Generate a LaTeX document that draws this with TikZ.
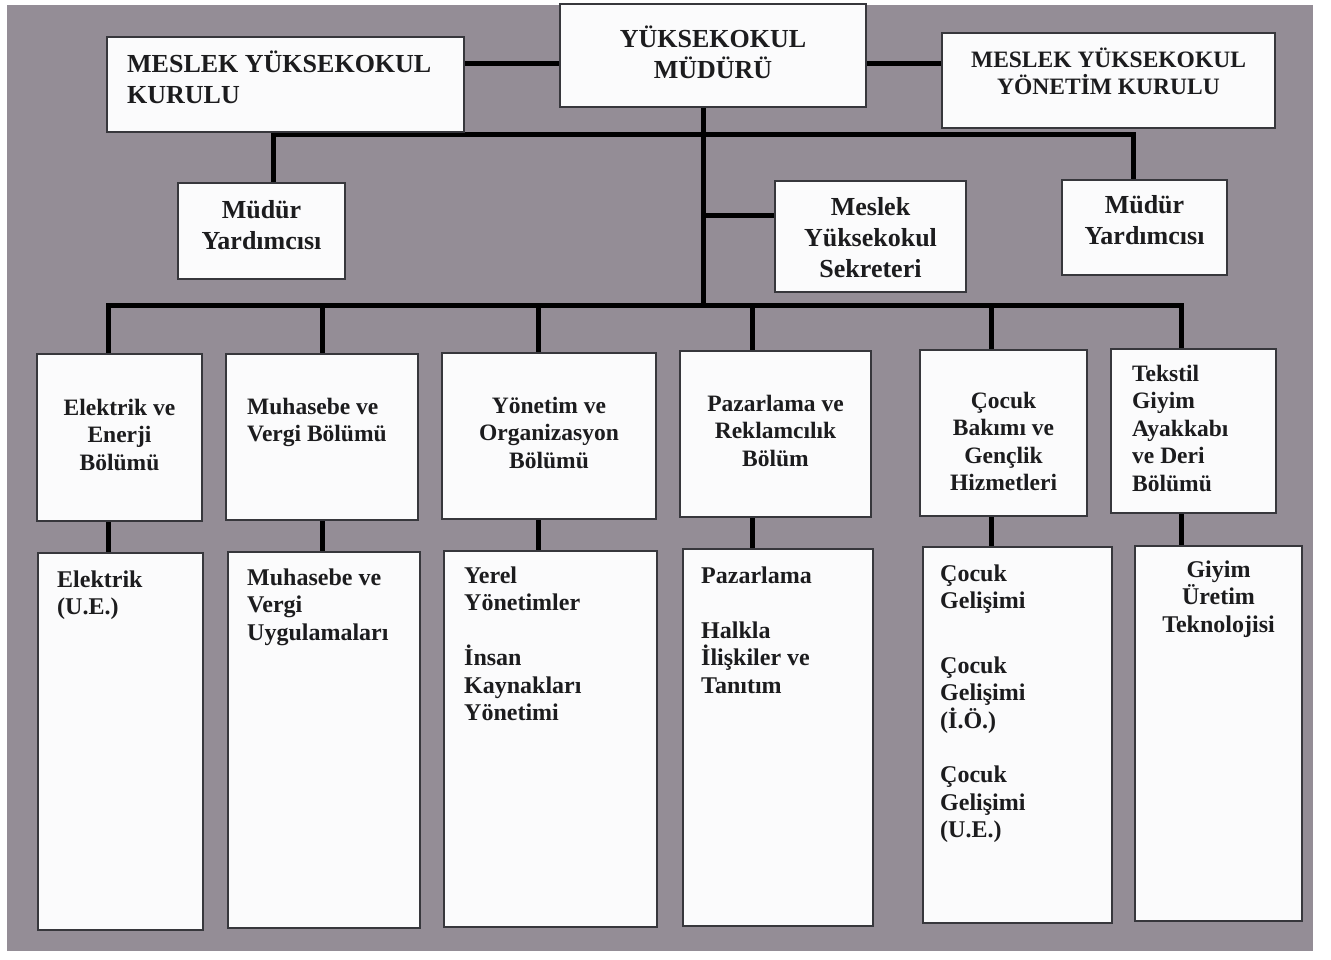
\documentclass[tikz,border=0pt]{standalone}
\usepackage{fontspec}
\setmainfont{Liberation Serif}
\usetikzlibrary{fit}
\definecolor{bgc}{RGB}{148,141,150}
\definecolor{boxfill}{RGB}{251,251,252}
\definecolor{boxline}{RGB}{55,55,60}
\definecolor{ink}{RGB}{28,28,30}
\newcommand\tsx[1]{\rule{0pt}{#1}}
\pgfdeclarelayer{back}
\pgfdeclarelayer{wires}
\pgfsetlayers{back,wires,main}
\begin{document}
\begin{tikzpicture}[x=1pt,y=-1pt,
  box/.style={draw=boxline, line width=1.6pt, fill=boxfill, inner sep=0pt, outer sep=0pt},
  conn/.style={draw=black, line width=5pt, line join=miter},
  big/.style={inner sep=0pt, text=ink, font=\fontsize{26}{31}\selectfont\bfseries},
  mid/.style={inner sep=0pt, text=ink, font=\fontsize{23.5}{27}\selectfont\bfseries},
  dep/.style={inner sep=0pt, text=ink, font=\fontsize{23.5}{27.5}\selectfont\bfseries},
  prg/.style={inner sep=0pt, text=ink, font=\fontsize{24}{27.5}\selectfont\bfseries}]
\useasboundingbox (0,0) rectangle (1331,959);
\begin{pgfonlayer}{back}
  \fill[white] (0,0) rectangle (1331,959);
  \fill[bgc] (7,5) rectangle (1313,951);
\end{pgfonlayer}

% top level
\node[box, fit={(107,37) (464,132)}] (b1) {};
\node[box, fit={(560,4) (866,107)}] (b2) {};
\node[box, fit={(942,33) (1275,128)}] (b3) {};
% second level
\node[box, fit={(178,183) (345,279)}] (y1) {};
\node[box, fit={(775,181) (966,292)}] (sek) {};
\node[box, fit={(1062,180) (1227,275)}] (y2) {};
% departments
\node[box, fit={(37,354) (202,521)}] (d1) {};
\node[box, fit={(226,354) (418,520)}] (d2) {};
\node[box, fit={(442,353) (656,519)}] (d3) {};
\node[box, fit={(680,351) (871,517)}] (d4) {};
\node[box, fit={(920,350) (1087,516)}] (d5) {};
\node[box, fit={(1111,349) (1276,513)}] (d6) {};
% programmes
\node[box, fit={(38,553) (203,930)}] (p1) {};
\node[box, fit={(228,552) (420,928)}] (p2) {};
\node[box, fit={(444,551) (657,927)}] (p3) {};
\node[box, fit={(683,549) (873,926)}] (p4) {};
\node[box, fit={(923,547) (1112,923)}] (p5) {};
\node[box, fit={(1135,546) (1302,921)}] (p6) {};

\coordinate (ub) at (703,134);
\coordinate (busY) at (703,305);

\begin{pgfonlayer}{wires}
  \draw[conn] ([yshift=-26pt]b1.north east) -- ([yshift=-26pt]b1.north east -| b2.west);
  \draw[conn] ([yshift=-59pt]b2.north east) -- ([yshift=-59pt]b2.north east -| b3.west);
  \draw[conn] ([xshift=-10pt]b2.south) -- ([xshift=-10pt]b2.south |- busY);
  \draw[conn] ([xshift=11.5pt]y1.north) |- (ub) -| ([xshift=-11.5pt]y2.north);
  \draw[conn] ([yshift=21.5pt]sek.west) -- ([yshift=21.5pt]sek.west -| ub);
  \draw[conn] ([xshift=-11.5pt]d1.north) |- ([xshift=-12.5pt]d6.north |- busY) -- ([xshift=-12.5pt]d6.north);
  \draw[conn] (d2.north) -- (d2.north |- busY);
  \draw[conn] ([xshift=-11pt]d3.north) -- ([xshift=-11pt]d3.north |- busY);
  \draw[conn] ([xshift=-23.5pt]d4.north) -- ([xshift=-23.5pt]d4.north |- busY);
  \draw[conn] ([xshift=-12.5pt]d5.north) -- ([xshift=-12.5pt]d5.north |- busY);
  \draw[conn] ([xshift=-11.5pt]d1.south) -- ([xshift=-11.5pt]d1.south |- p1.north);
  \draw[conn] (d2.south) -- (d2.south |- p2.north);
  \draw[conn] ([xshift=-11pt]d3.south) -- ([xshift=-11pt]d3.south |- p3.north);
  \draw[conn] ([xshift=-23.5pt]d4.south) -- ([xshift=-23.5pt]d4.south |- p4.north);
  \draw[conn] ([xshift=-12.5pt]d5.south) -- ([xshift=-12.5pt]d5.south |- p5.north);
  \draw[conn] ([xshift=-12.5pt]d6.south) -- ([xshift=-12.5pt]d6.south |- p6.north);
\end{pgfonlayer}

% texts
\node[big, align=left, anchor=north west] (t1) at (127,47) {\tsx{25pt}MESLEK YÜKSEKOKUL\\KURULU};
\node[big, align=center, anchor=north] (t2) at (713,22) {\tsx{25pt}YÜKSEKOKUL\\MÜDÜRÜ};
\node[mid, align=center, anchor=north] (t3) at (1108.5,44) {\tsx{23pt}MESLEK YÜKSEKOKUL\\YÖNETİM KURULU};
\node[big, align=center, anchor=north] (ty1) at (261.5,193) {\tsx{25pt}Müdür\\Yardımcısı};
\node[big, align=center, anchor=north] (tsek) at (870.5,190) {\tsx{25pt}Meslek\\Yüksekokul\\Sekreteri};
\node[big, align=center, anchor=north] (ty2) at (1144.5,188) {\tsx{25pt}Müdür\\Yardımcısı};

\node[dep, align=center, anchor=north] (td1) at (119.5,392) {\tsx{23pt}Elektrik ve\\Enerji\\Bölümü};
\node[dep, align=left, anchor=north west] (td2) at (247,391) {\tsx{23pt}Muhasebe ve\\Vergi Bölümü};
\node[dep, align=center, anchor=north] (td3) at (549,390) {\tsx{23pt}Yönetim ve\\Organizasyon\\Bölümü};
\node[dep, align=center, anchor=north] (td4) at (775.5,388) {\tsx{23pt}Pazarlama ve\\Reklamcılık\\Bölüm};
\node[dep, align=center, anchor=north] (td5) at (1003.5,385) {\tsx{23pt}Çocuk\\Bakımı ve\\Gençlik\\Hizmetleri};
\node[dep, align=left, anchor=north west] (td6) at (1132,358) {\tsx{23pt}Tekstil\\Giyim\\Ayakkabı\\ve Deri\\Bölümü};

\node[prg, align=left, anchor=north west] (tp1) at (57,564) {\tsx{23pt}Elektrik\\(U.E.)};
\node[prg, align=left, anchor=north west] (tp2) at (247,562) {\tsx{23pt}Muhasebe ve\\Vergi\\Uygulamaları};
\node[prg, align=left, anchor=north west] (tp3) at (464,560) {\tsx{23pt}Yerel\\Yönetimler\\[27.5pt]İnsan\\Kaynakları\\Yönetimi};
\node[prg, align=left, anchor=north west] (tp4) at (701,560) {\tsx{23pt}Pazarlama\\[27.5pt]Halkla\\İlişkiler ve\\Tanıtım};
\node[prg, align=left, anchor=north west] (tp5) at (940,558) {\tsx{23pt}Çocuk\\Gelişimi\\[37pt]Çocuk\\Gelişimi\\(İ.Ö.)\\[27pt]Çocuk\\Gelişimi\\(U.E.)};
\node[prg, align=center, anchor=north] (tp6) at (1218.5,554) {\tsx{23pt}Giyim\\Üretim\\Teknolojisi};
\end{tikzpicture}
\end{document}
